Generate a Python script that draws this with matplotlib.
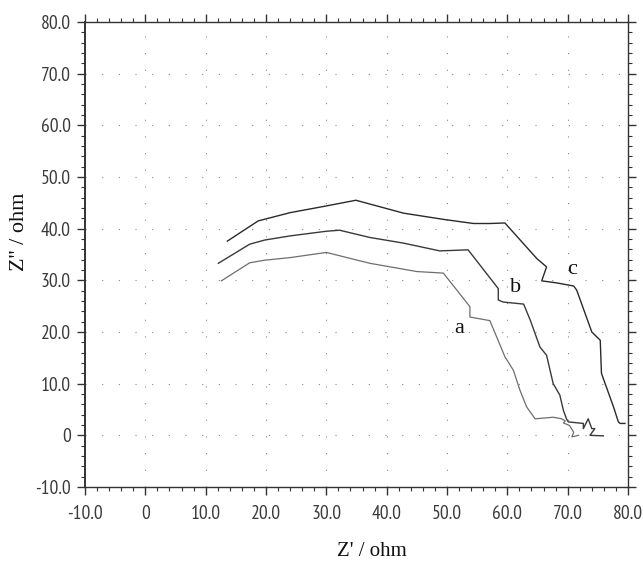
import matplotlib
matplotlib.use("Agg")
import matplotlib.pyplot as plt
from matplotlib.ticker import MultipleLocator, FuncFormatter

# Data (Z' , Z'')
a_x = [12.6, 17.3, 19.8, 24.0, 30.0, 37.2, 41.1, 45.0, 49.4, 53.8, 53.8, 57.1, 58.0,
       59.6, 61.0, 62.1, 63.2, 64.6, 67.6, 69.0, 69.6, 69.3, 70.3, 71.0, 70.7, 71.8]
a_y = [29.9, 33.4, 33.9, 34.4, 35.4, 33.3, 32.5, 31.7, 31.4, 24.9, 22.9, 22.2, 19.7,
       15.2, 12.6, 8.7, 5.5, 3.2, 3.5, 3.2, 2.8, 2.4, 1.9, 0.6, -0.3, 0.0]

b_x = [12.1, 17.3, 19.8, 24.0, 30.0, 32.2, 37.2, 42.8, 48.8, 53.5, 58.5, 58.5, 59.3,
       62.7, 63.8, 65.4, 66.5, 67.6, 68.7, 69.3, 69.8, 70.1, 72.6, 72.6, 73.4, 74.0,
       74.5, 73.7, 75.9]
b_y = [33.3, 37.0, 37.8, 38.6, 39.5, 39.7, 38.3, 37.2, 35.7, 35.9, 28.4, 26.2, 25.8,
       25.4, 22.3, 17.1, 15.5, 10.0, 7.8, 4.8, 3.2, 2.6, 2.3, 1.3, 3.2, 1.3,
       1.3, 0.0, -0.1]

c_x = [13.6, 18.7, 24.0, 30.0, 34.9, 42.8, 49.4, 54.4, 57.1, 59.6, 64.9, 66.5, 65.7,
       68.2, 71.0, 71.5, 74.0, 75.4, 75.6, 77.6, 78.4, 78.7, 79.5]
c_y = [37.6, 41.5, 43.1, 44.4, 45.5, 43.0, 41.8, 41.0, 41.0, 41.1, 34.2, 32.6, 29.9,
       29.5, 28.9, 28.1, 20.0, 18.4, 12.0, 5.5, 2.6, 2.3, 2.3]

curve_labels = ["a", "b", "c"]
label_x = [52.0, 61.3, 70.7]
label_y = [20.7, 28.6, 32.1]

x_label = "Z' / ohm"
y_label = "Z'' / ohm"

tick_family = ["Liberation Sans Narrow", "PT Sans Narrow", "Archivo Narrow"]

fig = plt.figure(figsize=(6.44, 5.69), dpi=100)
ax = fig.add_axes([85/644, 1-487/569, (628-85)/644, (487-22)/569])

ax.plot(a_x, a_y, color="#6e6e6e", lw=0.9)
ax.plot(b_x, b_y, color="#3a3a3a", lw=1.0)
ax.plot(c_x, c_y, color="#2a2a2a", lw=1.0)

for t, x, y in zip(curve_labels, label_x, label_y):
    ax.text(x, y, t, family="Liberation Serif", fontsize=16, ha="center", va="center",
            color="#111111")

ax.set_xlim(-10, 80)
ax.set_ylim(-10, 80)
ax.xaxis.set_major_locator(MultipleLocator(10))
ax.yaxis.set_major_locator(MultipleLocator(10))
ax.xaxis.set_minor_locator(MultipleLocator(2))
ax.yaxis.set_minor_locator(MultipleLocator(2))

fmt = FuncFormatter(lambda v, p: "0" if abs(v) < 1e-9 else f"{v:.1f}")
ax.xaxis.set_major_formatter(fmt)
ax.yaxis.set_major_formatter(fmt)

ax.tick_params(which="both", direction="out", top=True, right=True,
               labeltop=False, labelright=False, color="#333333")
ax.tick_params(which="major", length=6, width=1.0, labelsize=14, pad=4,
               labelcolor="#3a3a3a")
ax.tick_params(axis="x", which="major", pad=7)
ax.tick_params(which="minor", length=3, width=0.8)
for lab in ax.get_xticklabels() + ax.get_yticklabels():
    lab.set_family(tick_family)

for s in ax.spines.values():
    s.set_color("#333333")
    s.set_linewidth(1.0)
ax.spines["left"].set_linewidth(1.4)

ax.grid(True, which="major", color="#888888", lw=0.8, linestyle=(0, (1, 14)))
ax.set_axisbelow(True)

fig.text(372/644, 1-552/569, x_label, family="Liberation Serif", fontsize=15,
         ha="center", va="center", color="#111111")
fig.text(20/644, 1-232/569, y_label, family="Liberation Serif", fontsize=16,
         ha="center", va="center", rotation=90, color="#111111")

fig.savefig("out.png", dpi=100, facecolor="white")
